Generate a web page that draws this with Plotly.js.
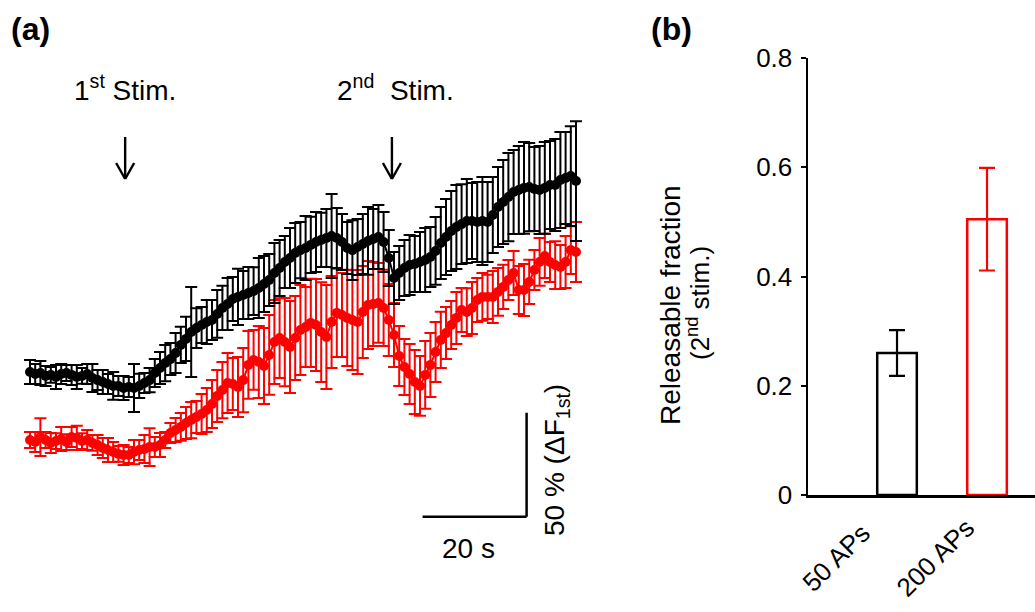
<!DOCTYPE html>
<html>
<head>
<meta charset="utf-8">
<script src="https://cdn.plot.ly/plotly-3.0.1.min.js"></script>
<style>html,body{margin:0;padding:0;background:#fff;}#chart{width:1035px;height:612px;}</style>
</head>
<body>
<div id="chart"></div>
<script>
// ---- Panel (a): time course (s) and fluorescence (% of ΔF 1st) ----
const timeSec = [0,1,2,3,4,5,6,7,8,9,10,11,12,13,14,15,16,17,18,19,20,21,22,23,24,25,26,27,28,29,
  30,31,32,33,34,35,36,37,38,39,40,41,42,43,44,45,46,47,48,49,50,51,52,53,54,55,56,57,58,59,
  60,61,62,63,64,65,66,67,68,69,70,71,72,73,74,75,76,77,78,79,80,81,82,83,84,85,86,87,88,89,
  90,91,92,93,94,95,96,97,98,99,100,101,102,103,104,105];

const black50Mean = [32.7,31.7,32.2,30.8,31.3,30.3,31.7,32.2,31.3,30.3,30.8,31.7,29.8,28.8,
  27.9,26.9,26.0,26.0,25.0,25.5,25.0,26.0,27.4,28.8,
  32.2,34.6,37.0,38.9,41.8,45.7,48.6,51.9,53.8,55.3,56.7,57.7,
  60.6,63.5,65.4,67.8,68.8,69.7,70.7,71.6,73.1,75.0,76.9,80.3,82.7,85.6,87.5,
  89.9,91.3,92.3,93.8,95.2,96.2,97.1,98.1,97.1,95.2,92.3,91.3,92.8,94.2,95.7,96.6,97.6,95.2,
  87.5,77.9,80.3,82.7,84.1,84.6,85.6,86.5,88.0,90.9,
  94.7,97.6,100.5,102.4,103.8,105.3,105.3,104.8,105.3,104.8,
  108.2,112.0,114.4,116.8,119.2,120.2,121.2,121.6,120.7,120.2,121.2,122.6,122.6,125.0,126.0,126.9,124.5];
const black50Err = [5.8,4.8,5.8,4.8,3.8,5.8,4.8,3.8,4.8,5.8,3.8,4.8,6.7,4.8,
  5.8,4.8,6.7,4.8,5.8,4.8,11.5,5.8,4.8,5.8,
  6.7,7.7,8.7,7.7,9.6,8.7,10.6,21.6,9.6,8.7,10.6,9.6,
  11.5,10.6,12.5,10.6,13.5,11.5,12.5,11.5,14.4,13.5,12.5,14.4,13.5,12.5,14.4,
  14.4,13.5,15.4,13.5,14.4,13.0,13.9,20.2,14.4,13.5,12.5,14.4,13.5,14.4,16.3,14.4,15.4,14.4,
  13.5,12.5,13.0,13.5,14.4,13.5,14.4,15.4,14.4,16.3,
  17.3,18.3,19.2,20.2,19.2,20.2,18.3,19.2,21.2,19.2,
  18.3,19.2,20.2,21.2,20.2,21.2,22.1,21.2,20.2,21.2,22.1,21.2,22.1,23.1,22.1,24.0,28.8];

const red200Mean = [0.0,-1.0,1.4,0.0,-1.4,-0.5,0.5,-1.0,1.4,1.0,-0.5,0.0,-1.4,-2.4,
  -3.8,-4.8,-5.8,-6.7,-7.2,-7.2,-5.8,-4.8,-4.3,-3.4,-3.4,-2.4,
  0.0,3.4,4.8,6.3,8.2,9.6,11.1,12.5,14.4,17.3,21.2,24.0,27.4,26.9,25.5,
  28.8,36.1,38.5,37.5,35.6,40.9,47.1,49.0,47.1,44.7,49.0,52.9,54.3,56.3,55.3,51.9,49.5,
  56.7,61.1,60.1,58.7,57.7,56.7,61.5,64.9,65.4,65.9,63.5,
  57.7,50.5,40.4,35.1,31.7,27.9,26.0,31.3,36.1,42.3,48.1,51.4,
  55.3,58.7,62.5,61.5,63.5,67.3,68.8,68.8,68.8,71.2,73.6,76.9,80.3,72.1,72.1,76.0,81.7,
  85.6,88.5,85.6,84.1,83.2,85.6,91.3,90.4];
const red200Err = [3.8,4.8,9.1,3.8,4.8,3.8,5.8,3.8,4.8,5.8,3.8,4.8,3.8,4.8,
  4.8,5.8,4.8,3.8,4.8,3.8,5.8,4.8,6.7,9.1,4.8,5.8,
  3.8,4.8,5.8,6.7,7.7,8.7,7.7,9.6,10.6,11.5,12.5,13.5,14.4,12.5,14.4,
  15.4,16.3,14.4,17.3,18.3,19.2,20.2,19.2,21.2,22.1,20.2,21.6,19.2,21.2,22.1,24.0,25.0,
  22.1,21.2,20.2,23.1,24.0,25.0,22.1,21.2,20.2,19.2,18.3,
  17.3,15.4,14.4,13.5,14.4,15.4,14.4,16.3,15.4,14.4,13.5,12.5,
  11.5,12.5,10.6,11.5,12.5,10.6,11.5,10.6,12.5,11.5,10.6,9.6,10.6,11.5,12.5,10.6,9.6,
  11.5,10.6,9.6,11.5,10.6,12.5,11.5,14.4];

const stimTimes = [18.3, 69.6];
const stimLabels = ['1<sup>st</sup> Stim.', '2<sup>nd</sup>\u00a0 Stim.'];

// scale bar: 20 s by 50 %
const scaleBarX = [75.5, 95.5];
const scaleBarY = [-36.9, 13.1];

// ---- Panel (b): releasable fraction ----
const barCategories = ['50 APs', '200 APs'];
const barValues = [0.26, 0.505];
const barErrors = [0.042, 0.094];
const barColors = ['#000000', '#ff0000'];
const yTickVals = [0, 0.2, 0.4, 0.6, 0.8];
const yTickText = ['0', '0.2', '0.4', '0.6', '0.8'];

const FONT = 'Liberation Sans, Arial, sans-serif';
const RED = '#ff0000';

const traces = [
  {
    x: timeSec, y: red200Mean, type: 'scatter', mode: 'lines+markers',
    xaxis: 'x', yaxis: 'y',
    line: {color: RED, width: 2},
    marker: {color: RED, size: 10},
    error_y: {type: 'data', array: red200Err, visible: true, color: RED, thickness: 2, width: 6},
    showlegend: false
  },
  {
    x: timeSec, y: black50Mean, type: 'scatter', mode: 'lines+markers',
    xaxis: 'x', yaxis: 'y',
    line: {color: '#000', width: 2},
    marker: {color: '#000', size: 10},
    error_y: {type: 'data', array: black50Err, visible: true, color: '#000', thickness: 2, width: 6},
    showlegend: false
  },
  {
    x: barCategories, y: barValues, type: 'bar', xaxis: 'x2', yaxis: 'y2',
    width: 0.44,
    marker: {color: 'rgba(255,255,255,0)', line: {color: barColors, width: 2.5}},
    showlegend: false
  }
];
// error bars of the two bars, each in its bar's colour
barCategories.forEach((c, i) => {
  traces.push({
    x: [c], y: [barValues[i]], type: 'scatter', mode: 'markers',
    xaxis: 'x2', yaxis: 'y2', marker: {size: 0.1, color: barColors[i]},
    error_y: {type: 'data', array: [barErrors[i]], visible: true, color: barColors[i], thickness: 2.2, width: 8},
    showlegend: false, hoverinfo: 'skip'
  });
});

// pixel mapping of panel (a): 5.2 px per second, 2.08 px per %
const W = 1035, H = 612;
const pxPerSec = 5.2, pxPerPct = 2.08, x0px = 30, y0px = 440;
const xaRange = [-x0px / pxPerSec, (0.6 * W - x0px) / pxPerSec];
const yaRange = [(y0px - H) / pxPerPct, y0px / pxPerPct];

const shapes = [];
// scale bar
shapes.push({type: 'line', xref: 'x', yref: 'y', x0: scaleBarX[0], x1: scaleBarX[1], y0: scaleBarY[0], y1: scaleBarY[0], line: {color: '#000', width: 2.5}});
shapes.push({type: 'line', xref: 'x', yref: 'y', x0: scaleBarX[1], x1: scaleBarX[1], y0: scaleBarY[0], y1: scaleBarY[1], line: {color: '#000', width: 2.5}});
// stimulus arrows
const headDx = 9 / pxPerSec;
stimTimes.forEach(t => {
  const yTop = 1 - 137 / H, yTip = 1 - 179 / H, yHead = 1 - 163 / H;
  shapes.push({type: 'line', xref: 'x', yref: 'paper', x0: t, x1: t, y0: yTop, y1: yTip, line: {color: '#000', width: 2.4}});
  shapes.push({type: 'line', xref: 'x', yref: 'paper', x0: t - headDx, x1: t, y0: yHead, y1: yTip, line: {color: '#000', width: 2.4}});
  shapes.push({type: 'line', xref: 'x', yref: 'paper', x0: t + headDx, x1: t, y0: yHead, y1: yTip, line: {color: '#000', width: 2.4}});
});

const annotations = [
  {text: '<b>(a)</b>', xref: 'paper', yref: 'paper', x: 9 / W, y: 1 - 29 / H, xanchor: 'left', yanchor: 'middle', showarrow: false, font: {family: FONT, size: 32, color: '#000'}},
  {text: '<b>(b)</b>', xref: 'paper', yref: 'paper', x: 649 / W, y: 1 - 29 / H, xanchor: 'left', yanchor: 'middle', showarrow: false, font: {family: FONT, size: 32, color: '#000'}},
  {text: '20 s', xref: 'x', yref: 'paper', x: (scaleBarX[0] + scaleBarX[1]) / 2 - 1.2, y: 1 - 548 / H, xanchor: 'center', yanchor: 'middle', showarrow: false, font: {family: FONT, size: 28, color: '#000'}},
  {text: '50 % (ΔF<sub>1st</sub>)', xref: 'paper', yref: 'paper', x: 556 / W, y: 1 - 460 / H, xanchor: 'center', yanchor: 'middle', textangle: -90, showarrow: false, font: {family: FONT, size: 28, color: '#000'}},
  {text: 'Releasable fraction', xref: 'paper', yref: 'paper', x: 670 / W, y: 1 - 305 / H, xanchor: 'center', yanchor: 'middle', textangle: -90, showarrow: false, font: {family: FONT, size: 28, color: '#000'}},
  {text: '(2<sup>nd</sup> stim.)', xref: 'paper', yref: 'paper', x: 698 / W, y: 1 - 303 / H, xanchor: 'center', yanchor: 'middle', textangle: -90, showarrow: false, font: {family: FONT, size: 26, color: '#000'}}
];
stimLabels.forEach((s, i) => {
  annotations.push({text: s, xref: 'x', yref: 'paper', x: stimTimes[i] + (i === 0 ? 0 : 0.6), y: 1 - 88 / H, xanchor: 'center', yanchor: 'middle', showarrow: false, font: {family: FONT, size: 28, color: '#000'}});
});
barCategories.forEach((c, i) => {
  annotations.push({text: c, xref: 'x2', yref: 'paper', x: c, xshift: i === 0 ? -61 : -52, y: 1 - 558 / H, xanchor: 'center', yanchor: 'middle', textangle: -45, showarrow: false, font: {family: FONT, size: 26, color: '#000'}});
});

const layout = {
  width: W, height: H,
  margin: {l: 0, r: 0, t: 0, b: 0},
  paper_bgcolor: '#fff', plot_bgcolor: 'rgba(0,0,0,0)',
  showlegend: false,
  xaxis: {domain: [0, 0.6], range: xaRange, visible: false, fixedrange: true},
  yaxis: {domain: [0, 1], range: yaRange, visible: false, fixedrange: true},
  xaxis2: {domain: [808 / W, 1], range: [-0.989, 1.533], type: 'category', anchor: 'y2',
    showline: true, linecolor: '#000', linewidth: 2.5, showgrid: false, zeroline: false,
    ticks: '', showticklabels: false, fixedrange: true},
  yaxis2: {domain: [(H - 495) / H, (H - 58) / H], range: [0, 0.8], anchor: 'x2',
    showline: true, linecolor: '#000', linewidth: 2.5, showgrid: false, zeroline: false,
    ticks: 'outside', ticklen: 5, tickwidth: 2, tickcolor: '#000',
    tickvals: yTickVals, ticktext: yTickText, ticklabelstandoff: 3,
    tickfont: {family: FONT, size: 26, color: '#000'}, fixedrange: true},
  shapes: shapes,
  annotations: annotations
};

Plotly.newPlot('chart', traces, layout, {displayModeBar: false, staticPlot: true});
</script>
</body>
</html>
